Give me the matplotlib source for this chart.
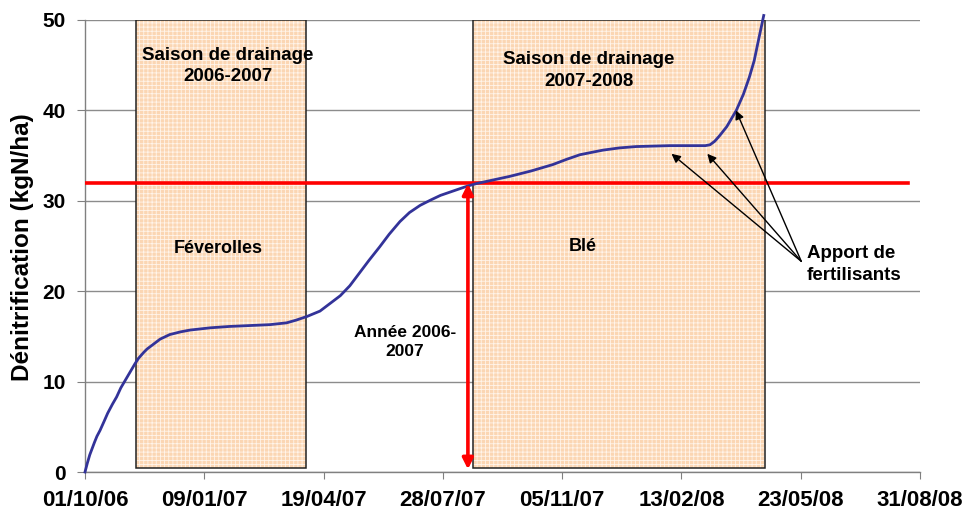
import matplotlib
matplotlib.use("Agg")
import matplotlib.pyplot as plt
from matplotlib.patches import Rectangle

plt.rcParams['font.family'] = ['Liberation Sans', 'DejaVu Sans']
plt.rcParams['font.weight'] = 'bold'
plt.rcParams['hatch.linewidth'] = 0.6

# Days since 01/10/06 and cumulative denitrification (kgN/ha)
days = [0, 2, 4, 6, 8, 10, 12.6, 16, 19, 23, 26.5, 30, 34, 38, 42, 45, 49, 52, 56, 63,
        71, 80, 88, 105, 121, 138, 155, 169, 177, 186, 197, 205, 214, 222, 230, 238,
        247, 255, 264, 272, 281, 290, 298, 309, 320, 328, 342, 356, 374, 392, 404,
        415, 434, 448, 462, 490, 507, 520, 524, 528, 532, 538, 546, 552, 557, 561,
        564, 569]
denit = [0, 1.0, 1.9, 2.6, 3.3, 3.95, 4.6, 5.6, 6.5, 7.5, 8.3, 9.3, 10.2, 11.1, 12.0,
         12.6, 13.2, 13.6, 14.0, 14.7, 15.2, 15.5, 15.7, 15.95, 16.1, 16.2, 16.3, 16.5,
         16.8, 17.2, 17.8, 18.6, 19.5, 20.6, 22.0, 23.4, 24.9, 26.3, 27.7, 28.7, 29.5,
         30.1, 30.6, 31.1, 31.6, 31.9, 32.3, 32.7, 33.3, 34.0, 34.6, 35.1, 35.6, 35.85,
         36.0, 36.1, 36.1, 36.1, 36.2, 36.6, 37.2, 38.2, 40.0, 41.8, 43.7, 45.5, 47.4,
         50.5]

tick_days = [0, 100, 200, 300, 400, 500, 600, 700]
tick_labels = ['01/10/06', '09/01/07', '19/04/07', '28/07/07', '05/11/07',
               '13/02/08', '23/05/08', '31/08/08']

season_starts = [42.5, 325.2]
season_ends = [185.0, 570.0]
season_labels = ['Saison de drainage\n2006-2007', 'Saison de drainage\n2007-2008']
crop_labels = ['Féverolles', 'Blé']

annual_total = 32.0
fert_days = [491.7, 521.7, 545.7]
fert_values = [35.2, 35.2, 40.0]

fig = plt.figure(figsize=(9.68, 5.15), dpi=100)
ax = fig.add_axes([85/968, 43/515, 835/968, 452/515])
ax.set_xlim(0, 700)
ax.set_ylim(0, 50)

# Horizontal gridlines
ax.yaxis.grid(True, color='#8c8c8c', lw=1)
ax.set_axisbelow(True)

# Drainage season boxes
for s, e in zip(season_starts, season_ends):
    ax.add_patch(Rectangle((s, 0.4), e - s, 50 - 0.4, facecolor='#fbd6b3',
                           edgecolor='#fff4ea', hatch='++++', lw=0, zorder=1.5))
    ax.add_patch(Rectangle((s, 0.4), e - s, 50 - 0.4, fill=False,
                           edgecolor='#222222', lw=1.1, zorder=1.6))

# Curve
ax.plot(days, denit, color='#333399', lw=2.0, zorder=3, clip_on=False,
        solid_joinstyle='round')

# Annual total line
ax.plot([0, 690], [annual_total, annual_total], color='#ff0000', lw=2.6, zorder=2.5)
ax.annotate('', xy=(321, 0.3), xytext=(321, annual_total - 0.1),
            arrowprops=dict(arrowstyle='<|-|>', color='#ff0000', lw=2.6,
                            mutation_scale=16, shrinkA=0, shrinkB=0), zorder=4)

# Fertiliser arrows
for fd, fv in zip(fert_days, fert_values):
    ax.annotate('', xy=(fd, fv), xytext=(600.5, 23.3),
                arrowprops=dict(arrowstyle='-|>', color='black', lw=1.0,
                                mutation_scale=13, shrinkA=0, shrinkB=0), zorder=4)

# Texts
ax.text(120, 44.9, season_labels[0], ha='center', va='center', fontsize=13.5,
        fontweight='bold', linespacing=1.35, zorder=5)
ax.text(422.5, 44.4, season_labels[1], ha='center', va='center', fontsize=13.5,
        fontweight='bold', linespacing=1.35, zorder=5)
ax.text(112, 24.7, crop_labels[0], ha='center', va='center', fontsize=13,
        fontweight='bold', zorder=5)
ax.text(417, 24.9, crop_labels[1], ha='center', va='center', fontsize=13,
        fontweight='bold', zorder=5)
ax.text(268, 14.4, 'Année 2006-\n2007', ha='center', va='center', fontsize=12.5,
        fontweight='bold', linespacing=1.35, zorder=5)
ax.text(605, 22.95, 'Apport de\nfertilisants', ha='left', va='center', fontsize=13.5,
        fontweight='bold', linespacing=1.35, zorder=5)

# Axes styling
for sp in ['top', 'right']:
    ax.spines[sp].set_visible(False)
for sp in ['left', 'bottom']:
    ax.spines[sp].set_color('#808080')
    ax.spines[sp].set_linewidth(1)
    ax.spines[sp].set_zorder(2)

ax.set_xticks(tick_days)
ax.set_xticklabels(tick_labels)
ax.set_yticks([0, 10, 20, 30, 40, 50])
ax.tick_params(axis='x', length=5, color='#808080', pad=8, labelsize=16)
ax.tick_params(axis='y', length=6, color='#808080', pad=8, labelsize=15)
for lbl in ax.get_xticklabels() + ax.get_yticklabels():
    lbl.set_fontweight('bold')

fig.text(22.5/968, 1 - 247.5/515, 'Dénitrification (kgN/ha)', rotation=90,
         ha='center', va='center', fontsize=17.5, fontweight='bold')

fig.savefig('out.png', dpi=100)
